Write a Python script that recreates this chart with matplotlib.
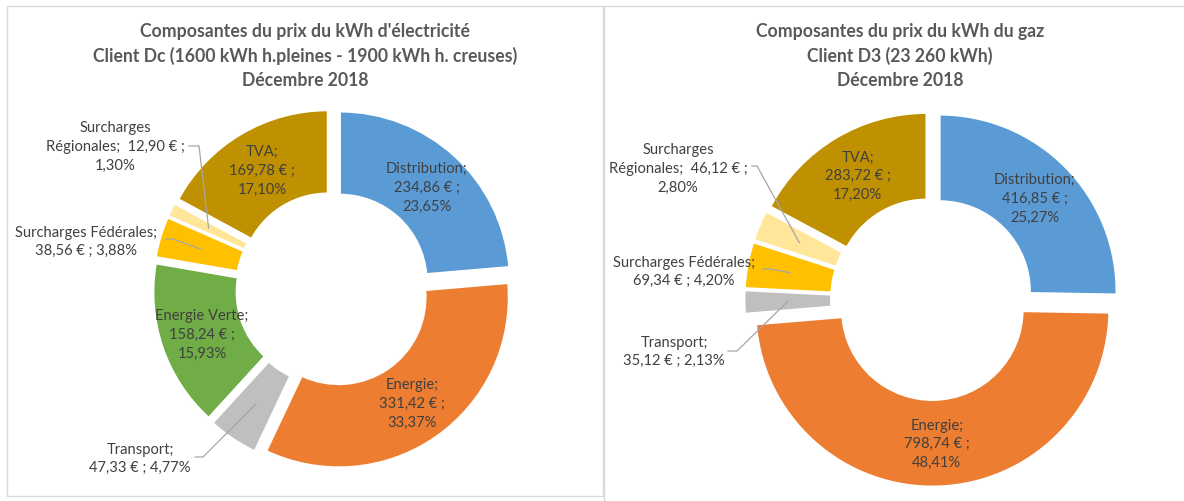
import numpy as np
import matplotlib
matplotlib.use("Agg")
import matplotlib.pyplot as plt
from matplotlib.patches import Rectangle

# ---------------- data ----------------
elec_labels = ["Distribution", "Energie", "Transport", "Energie Verte",
               "Surcharges Fédérales", "Surcharges Régionales", "TVA"]
elec_values = [234.86, 331.42, 47.33, 158.24, 38.56, 12.90, 169.78]
elec_pct = [23.65, 33.37, 4.77, 15.93, 3.88, 1.30, 17.10]

gaz_labels = ["Distribution", "Energie", "Transport",
              "Surcharges Fédérales", "Surcharges Régionales", "TVA"]
gaz_values = [416.85, 798.74, 35.12, 69.34, 46.12, 283.72]
gaz_pct = [25.27, 48.41, 2.13, 4.20, 2.80, 17.20]

color_map = {
    "Distribution": "#5B9BD5",
    "Energie": "#ED7D31",
    "Transport": "#BFBFBF",
    "Energie Verte": "#70AD47",
    "Surcharges Fédérales": "#FFC000",
    "Surcharges Régionales": "#FFE699",
    "TVA": "#BF9000",
}

elec_title = ("Composantes du prix du kWh d'électricité\n"
              "Client Dc (1600 kWh h.pleines - 1900 kWh h. creuses)\n"
              "Décembre 2018")
gaz_title = ("Composantes du prix du kWh du gaz\n"
             "Client D3 (23 260 kWh)\n"
             "Décembre 2018")

# ---------------- layout ----------------
W, H = 1184, 502
FONT = "Lato"
TXT = "#404040"
TITLE_C = "#595959"
LEAD_C = "#A6A6A6"
HOLE = 0.51
EXPL = 0.06

plt.rcParams["font.family"] = [FONT, "DejaVu Sans"]
fig = plt.figure(figsize=(W / 100, H / 100), dpi=100)
fig.patch.set_facecolor("white")


def fx(x):
    return x / W


def fy(y):
    return 1 - y / H


def fmt(v):
    return f"{v:.2f}".replace(".", ",")


# panel borders
fig.add_artist(Rectangle((fx(7), fy(497)), fx(603) - fx(7), fy(7) - fy(497),
                         transform=fig.transFigure, fill=False,
                         edgecolor="#D9D9D9", linewidth=1.0))
fig.add_artist(Rectangle((fx(603.5), fy(540)), fx(1250) - fx(603.5), fy(7) - fy(540),
                         transform=fig.transFigure, fill=False,
                         edgecolor="#D9D9D9", linewidth=1.0, clip_on=False))


def draw_donut(labels, values, pct, cx, cy, R, title, tx, outside):
    half = 1.3 * R
    ax = fig.add_axes([fx(cx - half), fy(cy + half), 2 * half / W, 2 * half / H])
    cols = [color_map[l] for l in labels]
    wedges, _ = ax.pie(values, radius=1.0, startangle=90, counterclock=False,
                       explode=[EXPL] * len(values), colors=cols,
                       wedgeprops=dict(width=1 - HOLE, edgecolor="white", linewidth=1.5))
    ax.set_xlim(-1.3, 1.3)
    ax.set_ylim(-1.3, 1.3)
    ax.set_aspect("equal")
    ax.axis("off")

    def px2d(x, y):
        return (x - cx) / R, (cy - y) / R

    total = sum(values)
    cum = 0.0
    for lab, v, p in zip(labels, values, pct):
        mid = (cum + v / 2) / total * 2 * np.pi  # clockwise from top
        cum += v
        r = (1 + HOLE) / 2 + EXPL
        px, py = r * np.sin(mid), r * np.cos(mid)
        if lab in outside:
            (tcx, tcy), start, elbow, text = outside[lab]
            ax.text(*px2d(tcx, tcy), text, ha="center", va="center", color=TXT,
                    fontsize=10.6, linespacing=1.42, clip_on=False)
            sx, sy = px2d(*start)
            ex, ey = px2d(*elbow)
            ax.plot([sx, ex, px], [sy, ey, py], color=LEAD_C, lw=0.9,
                    clip_on=False, zorder=5)
        else:
            text = f"{lab};\n{fmt(v)} € ;\n{fmt(p)}%"
            ax.text(px, py, text, ha="center", va="center", color=TXT,
                    fontsize=10.6, linespacing=1.42)

    fig.text(fx(tx), fy(56), title, ha="center", va="center", color=TITLE_C,
             fontsize=12.7, fontweight="bold", linespacing=1.45)


elec_outside = {
    "Surcharges Régionales": ((115, 147), (189, 147), (199, 147),
                              f"Surcharges\nRégionales;  {fmt(elec_values[5])} € ;\n{fmt(elec_pct[5])}%"),
    "Surcharges Fédérales": ((86, 242), (166, 240), (173, 240),
                             f"Surcharges Fédérales;\n{fmt(elec_values[4])} € ; {fmt(elec_pct[4])}%"),
    "Transport": ((140, 459), (195, 458), (203, 458),
                  f"Transport;\n{fmt(elec_values[2])} € ; {fmt(elec_pct[2])}%"),
}
gaz_outside = {
    "Surcharges Régionales": ((678, 169), (752, 167), (757, 167),
                              f"Surcharges\nRégionales;  {fmt(gaz_values[4])} € ;\n{fmt(gaz_pct[4])}%"),
    "Surcharges Fédérales": ((684, 272), (763, 270), (771, 270),
                             f"Surcharges Fédérales;\n{fmt(gaz_values[3])} € ; {fmt(gaz_pct[3])}%"),
    "Transport": ((674, 352), (728, 352), (737, 352),
                  f"Transport;\n{fmt(gaz_values[2])} € ; {fmt(gaz_pct[2])}%"),
}

draw_donut(elec_labels, elec_values, elec_pct, 333, 290, 170, elec_title, 305, elec_outside)
draw_donut(gaz_labels, gaz_values, gaz_pct, 932, 300, 177, gaz_title, 900, gaz_outside)

fig.savefig("out.png", dpi=100, facecolor="white")
